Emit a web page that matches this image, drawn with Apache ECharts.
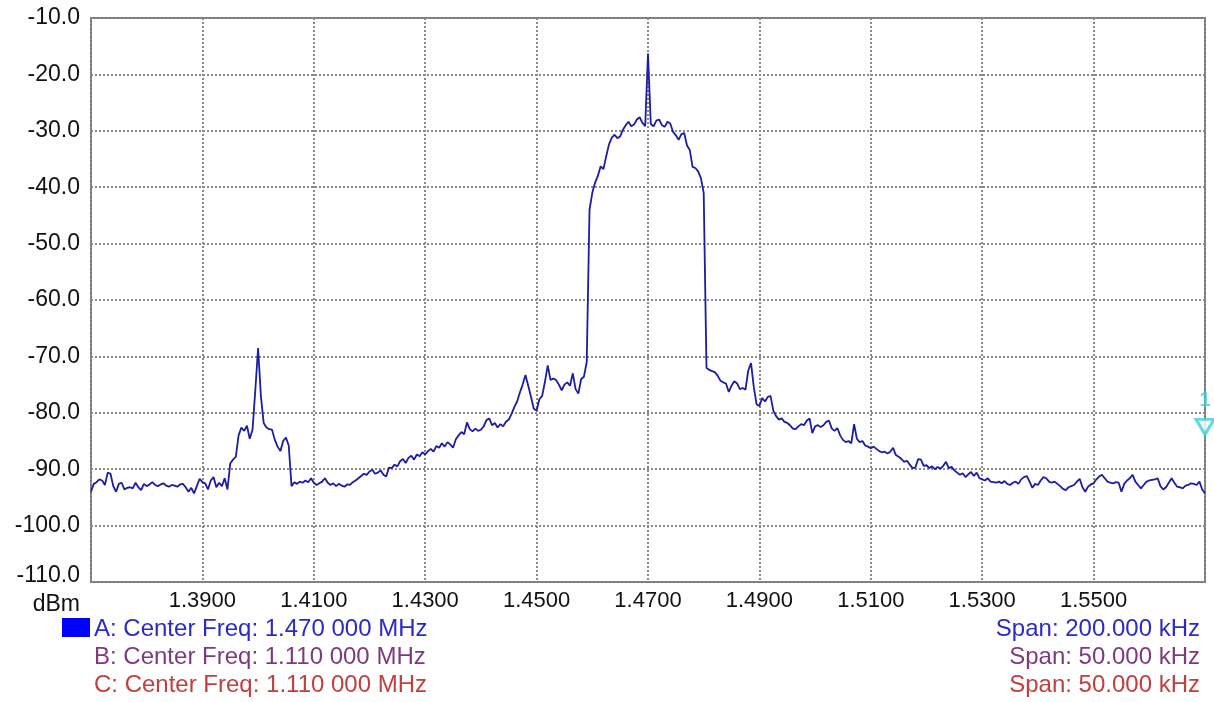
<!DOCTYPE html>
<html>
<head>
<meta charset="utf-8">
<script src="https://cdn.jsdelivr.net/npm/echarts@6/dist/echarts.min.js"></script>
<style>
html, body { margin: 0; padding: 0; background: #fff; }
#container { width: 1214px; height: 702px; }
</style>
</head>
<body>
<div id="container"></div>
<script>
// sweep grid of trace A (MHz)
var freqStartMHz = 1.37;
var freqStepMHz = 0.0005;

// trace A levels (dBm), one per sweep point
var levelDbm = [
  -94.0, -92.6, -92.3, -91.8, -92.0, -92.8, -90.6, -90.8, -93.0, -94.0,
  -92.6, -92.4, -93.6, -93.3, -93.2, -93.4, -92.4, -93.2, -93.7, -92.6,
  -93.0, -92.7, -92.3, -92.8, -93.0, -92.7, -92.5, -92.9, -93.1, -92.8,
  -92.9, -93.1, -92.7, -92.6, -93.2, -94.0, -93.3, -94.3, -93.0, -91.7,
  -92.3, -92.5, -93.6, -92.0, -91.4, -93.2, -92.4, -93.0, -91.6, -93.6,
  -89.0, -88.3, -87.8, -84.0, -82.6, -83.2, -82.3, -84.6, -83.0, -76.0,
  -68.5, -77.0, -81.8, -82.6, -82.9, -83.0, -84.8, -86.0, -86.8, -85.0,
  -84.4, -85.8, -93.0, -92.3, -92.6, -92.2, -92.4, -92.0, -92.3, -91.6,
  -92.4, -92.8, -92.5, -92.2, -91.6, -92.4, -92.8, -92.5, -93.0, -92.6,
  -92.9, -93.1, -92.7, -92.8, -92.3, -92.0, -91.6, -91.2, -90.8, -91.0,
  -90.4, -90.1, -90.8, -90.6, -90.2, -91.0, -91.3, -89.7, -89.8, -89.2,
  -89.5, -88.6, -88.2, -88.9, -88.0, -87.6, -88.3, -87.4, -87.7, -87.0,
  -87.4, -86.8, -86.4, -86.9, -85.9, -86.2, -85.4, -86.0, -85.2, -85.6,
  -86.2, -84.7, -84.0, -83.4, -83.8, -81.7, -82.9, -83.3, -82.8, -83.2,
  -83.0, -82.4, -81.3, -81.0, -82.2, -81.8, -82.6, -82.0, -82.4, -81.6,
  -81.2, -80.2, -79.0, -78.0, -76.4, -75.0, -73.3, -75.2, -77.2, -79.3,
  -79.6, -77.6, -77.0, -74.5, -71.6, -74.2, -73.9, -74.2, -75.0, -76.0,
  -75.0, -74.6, -75.2, -73.0, -75.8, -76.6, -74.0, -73.6, -71.0, -44.0,
  -41.0, -39.2, -38.0, -36.3, -36.8, -34.5, -32.4, -31.2, -30.7, -31.3,
  -31.0, -29.8, -29.0, -28.4, -29.2, -28.9, -28.0, -27.6, -28.6, -29.2,
  -16.3, -28.8, -29.2, -28.2, -28.0, -29.0, -29.3, -28.4, -28.7, -30.2,
  -30.8, -31.6, -30.6, -30.4, -32.6, -33.4, -36.4, -36.6, -37.2, -38.4,
  -41.0, -72.0, -72.4, -72.6, -72.8, -73.4, -74.3, -74.6, -74.8, -76.3,
  -75.2, -74.4, -74.8, -75.8, -75.6, -75.9, -72.5, -71.2, -75.5, -78.5,
  -78.8, -77.4, -78.0, -77.2, -77.0, -79.6, -80.6, -81.2, -81.0, -81.6,
  -81.8, -82.2, -82.8, -82.9, -82.4, -82.0, -82.2, -81.4, -81.0, -83.6,
  -82.4, -82.2, -82.5, -82.2, -81.6, -81.4, -82.8, -83.2, -82.7, -84.0,
  -84.8, -85.2, -85.0, -85.4, -82.0, -84.6, -85.2, -85.0, -85.8, -86.0,
  -86.3, -86.0, -86.4, -86.8, -87.0, -86.9, -87.2, -86.9, -86.2, -87.5,
  -87.8, -88.2, -88.7, -88.5, -89.2, -89.8, -89.7, -88.2, -88.3, -89.4,
  -89.3, -89.8, -89.5, -90.0, -89.6, -89.9, -89.4, -88.7, -89.8, -89.6,
  -90.2, -90.6, -91.0, -90.7, -91.4, -90.9, -90.5, -91.2, -90.6, -91.6,
  -91.8, -92.0, -91.6, -92.2, -92.3, -92.4, -92.2, -92.5, -92.1, -92.6,
  -92.8, -92.4, -92.2, -92.6, -91.8, -91.4, -91.2, -92.2, -93.3, -92.6,
  -92.8, -92.0, -91.4, -91.6, -92.2, -92.4, -92.2, -92.6, -93.0, -93.5,
  -93.7, -93.2, -93.0, -92.8, -92.2, -91.7, -93.2, -94.0, -93.1, -92.7,
  -92.5, -91.8, -91.3, -91.0, -91.6, -92.2, -92.4, -92.5, -92.3, -92.4,
  -94.0, -92.6, -92.0, -91.6, -91.0, -92.2, -92.8, -93.4, -92.8, -92.2,
  -92.0, -91.9, -91.8, -91.6, -93.0, -93.6, -93.2, -92.4, -91.6, -92.4,
  -93.1, -93.2, -93.4, -92.9, -92.8, -92.5, -92.6, -92.8, -92.2, -93.6,
  -94.3
];

// marker 1 sits on the right edge
var markerFreq = [1.57];
var markerLevel = [-82.5];

var traceLabels = ['A: Center Freq: 1.470 000 MHz', 'B: Center Freq: 1.110 000 MHz', 'C: Center Freq: 1.110 000 MHz'];
var spanLabels = ['Span: 200.000 kHz', 'Span: 50.000 kHz', 'Span: 50.000 kHz'];
var traceColors = ['#2a2ac8', '#7e3a7e', '#c04040'];

var FONT = 'Liberation Sans, Arial, sans-serif';

var traceData = levelDbm.map(function (v, i) {
  return [freqStartMHz + i * freqStepMHz, v];
});
var markerData = markerFreq.map(function (f, i) { return [f, markerLevel[i]]; });

var graphics = [
  { type: 'text', right: 1214 - 80, top: 593, style: { text: 'dBm', fill: '#111', font: '23px ' + FONT, textAlign: 'right' } },
  { type: 'rect', shape: { x: 62, y: 618, width: 28, height: 19 }, style: { fill: '#0000ff' } }
];
traceLabels.forEach(function (t, i) {
  graphics.push({ type: 'text', left: 94, top: 617 + i * 28,
    style: { text: t, fill: traceColors[i], font: '24px ' + FONT } });
  graphics.push({ type: 'text', right: 14, top: 617 + i * 28,
    style: { text: spanLabels[i], fill: traceColors[i], font: '24px ' + FONT } });
});

var chart = echarts.init(document.getElementById('container'));
chart.setOption({
  animation: false,
  backgroundColor: '#fff',
  grid: {
    left: 91, right: 9, top: 18, bottom: 120,
    show: true, borderColor: '#7a7a7a', borderWidth: 2, backgroundColor: '#fff'
  },
  xAxis: {
    type: 'value',
    min: 1.37, max: 1.57, interval: 0.02,
    axisLine: { show: false },
    axisTick: { show: false },
    axisLabel: {
      showMinLabel: false, showMaxLabel: false,
      margin: 8, color: '#111', fontSize: 22, fontFamily: FONT,
      formatter: function (v) { return v.toFixed(4); }
    },
    splitLine: { show: true, lineStyle: { color: '#8a8a8a', width: 2, type: [2, 2] } }
  },
  yAxis: {
    type: 'value',
    min: -110, max: -10, interval: 10,
    axisLine: { show: false },
    axisTick: { show: false },
    axisLabel: {
      margin: 11, color: '#111', fontSize: 23, fontFamily: FONT,
      formatter: function (v) {
        return v === -110 ? '{low|' + v.toFixed(1) + '}' : v.toFixed(1);
      },
      rich: {
        low: { fontSize: 23, fontFamily: FONT, color: '#111', padding: [0, 0, 12, 0] }
      }
    },
    splitLine: { show: true, lineStyle: { color: '#8a8a8a', width: 2, type: [2, 2] } }
  },
  series: [
    {
      name: 'A',
      type: 'line',
      data: traceData,
      showSymbol: false,
      lineStyle: { color: '#1c1ca4', width: 1.8 },
      z: 3
    },
    {
      name: 'marker',
      type: 'scatter',
      data: markerData,
      clip: false,
      symbol: 'triangle',
      symbolRotate: 180,
      symbolSize: [18, 15],
      itemStyle: { color: '#ffffff', borderColor: '#3ccfdc', borderWidth: 3 },
      label: {
        show: true, formatter: '1', position: 'top', distance: 8,
        color: '#3ccfdc', fontSize: 20, fontWeight: 'bold', fontFamily: FONT
      },
      z: 4
    }
  ],
  graphic: graphics
});
</script>
</body>
</html>
